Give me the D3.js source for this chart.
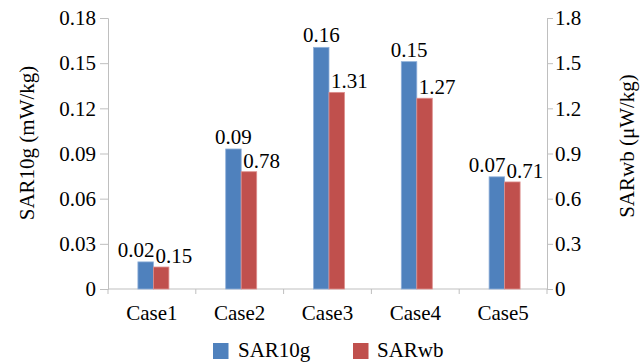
<!DOCTYPE html>
<html>
<head>
<meta charset="utf-8">
<script src="https://cdn.jsdelivr.net/npm/d3@7"></script>
<style>
  body { margin: 0; background: #fff; }
</style>
</head>
<body>
<div id="chart"></div>
<script>
const cases = ["Case1", "Case2", "Case3", "Case4", "Case5"];
const sar10g = [0.018, 0.093, 0.1605, 0.151, 0.0745];
const sarwb = [0.146, 0.779, 1.306, 1.267, 0.711];
const sar10gLabels = ["0.02", "0.09", "0.16", "0.15", "0.07"];
const sarwbLabels = ["0.15", "0.78", "1.31", "1.27", "0.71"];
const leftTicks = [0, 0.03, 0.06, 0.09, 0.12, 0.15, 0.18];
const rightTicks = [0, 0.3, 0.6, 0.9, 1.2, 1.5, 1.8];

const width = 640, height = 362;
const margin = { top: 18, right: 93, bottom: 73, left: 108 };
const innerW = width - margin.left - margin.right;
const innerH = height - margin.top - margin.bottom;

const blue = "#4F81BD", red = "#C0504D", axisColor = "#BFBFBF";
const font = "'Liberation Serif', 'Times New Roman', Times, serif";

const svg = d3.select("#chart").append("svg")
  .attr("width", width)
  .attr("height", height)
  .attr("font-family", font);

const g = svg.append("g")
  .attr("transform", "translate(" + margin.left + "," + margin.top + ")");

let x = d3.scaleBand().domain(cases).range([0, innerW]).paddingInner(0),
  yL = d3.scaleLinear().domain([0, 0.18]).range([innerH, 0]),
  yR = d3.scaleLinear().domain([0, 1.8]).range([innerH, 0]);

const barW = 15.5, shift = 1.5;

// left axis
const leftAxis = g.append("g")
  .call(d3.axisLeft(yL).tickValues(leftTicks).tickSize(8).tickPadding(4)
    .tickFormat(d => d === 0 ? "0" : d3.format(".2f")(d)));

// right axis
const rightAxis = g.append("g")
  .attr("transform", "translate(" + innerW + ",0)")
  .call(d3.axisRight(yR).tickValues(rightTicks).tickSize(6).tickPadding(2)
    .tickFormat(d => d === 0 ? "0" : d3.format(".1f")(d)));

// x axis: line, ticks at band edges, labels at centers
const xAxis = g.append("g")
  .attr("transform", "translate(0," + innerH + ")")
  .call(d3.axisBottom(x).tickSize(0).tickPadding(16));
xAxis.select(".domain").remove();
xAxis.append("line")
  .attr("x1", 0).attr("x2", innerW)
  .attr("stroke", axisColor);
const edges = cases.map(d => x(d)).concat([innerW]);
xAxis.selectAll(".edge").data(edges).enter().append("line")
  .attr("class", "edge")
  .attr("x1", d => d).attr("x2", d => d)
  .attr("y1", 0).attr("y2", 5)
  .attr("stroke", axisColor);

[leftAxis, rightAxis].forEach(a => {
  a.select(".domain").attr("stroke", axisColor);
  a.selectAll(".tick line").attr("stroke", axisColor);
});

// bars
const groups = g.selectAll(".grp").data(cases).enter().append("g")
  .attr("class", "grp")
  .attr("transform", d => "translate(" + (x(d) + x.bandwidth() / 2 + shift) + ",0)");

groups.append("rect")
  .attr("x", -barW)
  .attr("y", (d, i) => yL(sar10g[i]))
  .attr("width", barW)
  .attr("height", (d, i) => innerH - yL(sar10g[i]))
  .attr("fill", blue)
  .attr("stroke", "#8FB0DA").attr("stroke-width", 0.8);

groups.append("rect")
  .attr("x", 0)
  .attr("y", (d, i) => yR(sarwb[i]))
  .attr("width", barW)
  .attr("height", (d, i) => innerH - yR(sarwb[i]))
  .attr("fill", red)
  .attr("stroke", "#DE8F8D").attr("stroke-width", 0.8);

// data labels
const close = i => Math.abs(yL(sar10g[i]) - yR(sarwb[i])) < 20;
groups.append("text")
  .attr("x", (d, i) => close(i) ? 1 : -barW / 2)
  .attr("y", (d, i) => yL(sar10g[i]) - 5)
  .attr("text-anchor", (d, i) => close(i) ? "end" : "middle")
  .text((d, i) => sar10gLabels[i]);

groups.append("text")
  .attr("x", 2)
  .attr("y", (d, i) => yR(sarwb[i]) - 4)
  .text((d, i) => sarwbLabels[i]);

// axis titles
svg.append("text")
  .attr("transform", "translate(34,143) rotate(-90)")
  .attr("text-anchor", "middle")
  .text("SAR10g (mW/kg)");

svg.append("text")
  .attr("class", "rtitle")
  .attr("transform", "translate(634,146) rotate(-90)")
  .attr("text-anchor", "middle")
  .text("SARwb (μW/kg)");

// legend
const legend = [{ name: "SAR10g", color: blue, x: 213 }, { name: "SARwb", color: red, x: 353 }];
const lg = svg.selectAll(".legend").data(legend).enter().append("g")
  .attr("class", "legend")
  .attr("transform", d => "translate(" + d.x + ",343)");
lg.append("rect")
  .attr("width", 15.5).attr("height", 16)
  .attr("fill", d => d.color);
lg.append("text")
  .attr("x", (d, i) => i === 0 ? 25 : 24)
  .attr("y", 14)
  .text(d => d.name);

svg.selectAll("text")
  .style("font-family", font)
  .style("font-size", "21px")
  .attr("fill", "#000");
svg.select(".rtitle").style("font-size", "21px");
</script>
</body>
</html>
